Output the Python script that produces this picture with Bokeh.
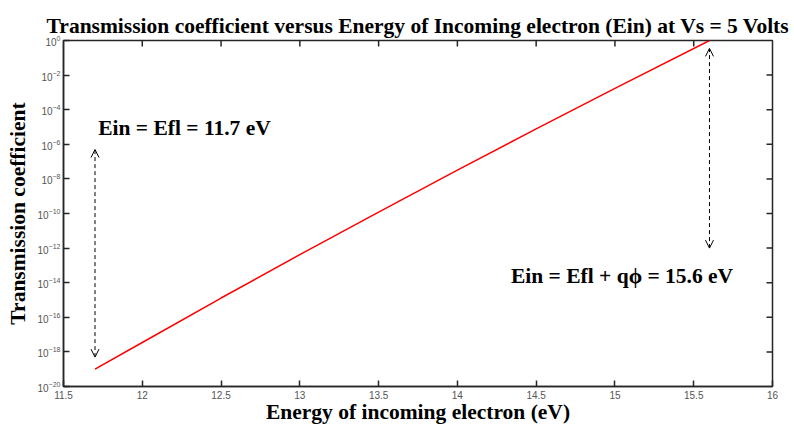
import math
from bokeh.plotting import figure
from bokeh.models import (FixedTicker, Arrow, OpenHead, Label, Range1d, ColumnDataSource)
from bokeh.embed import file_html
from bokeh.resources import INLINE

# ---- data ----
energy = [11.7, 12.0, 12.5, 13.0, 13.5, 14.0, 14.5, 15.0, 15.6]
transmission = [1.0e-19, 3.5e-18, 1.3e-15, 4.2e-13, 1.2e-10, 3.2e-8, 7.8e-6, 1.7e-3, 1.0]

x_ticks = [11.5, 12.0, 12.5, 13.0, 13.5, 14.0, 14.5, 15.0, 15.5, 16.0]
x_tick_labels = ["11.5", "12", "12.5", "13", "13.5", "14", "14.5", "15", "15.5", "16"]
y_ticks = [1e-20, 1e-18, 1e-16, 1e-14, 1e-12, 1e-10, 1e-8, 1e-6, 1e-4, 1e-2, 1e0]

arrow_x = [11.7, 15.6]
arrow_y_low = [5e-19, 1e-12]
arrow_y_high = [5e-7, 0.35]

title_text = "Transmission coefficient versus Energy of Incoming electron (Ein) at Vs = 5 Volts"
x_label = "Energy of incoming electron (eV)"
y_label = "Transmission coefficient"
note_left = "Ein = Efl = 11.7 eV"
note_right = "Ein = Efl + q\u03d5 = 15.6 eV"

SERIF = "Liberation Serif"
AXC = "#262626"
BIG = "21.5px"

x_lo, x_hi = x_ticks[0], x_ticks[-1]
y_lo, y_hi = y_ticks[0], y_ticks[-1]

p = figure(width=794, height=426, x_range=Range1d(x_lo, x_hi), y_range=Range1d(y_lo, y_hi),
           y_axis_type="log", output_backend="svg", toolbar_location=None,
           min_border_left=63, min_border_right=22, min_border_top=40, min_border_bottom=40)
p.background_fill_color = "white"
p.border_fill_color = "white"
p.grid.visible = False
p.outline_line_color = AXC
p.outline_line_width = 1.5

p.title.text = title_text
p.title.align = "center"
p.title.text_font = SERIF
p.title.text_font_size = BIG
p.title.text_font_style = "bold"
p.title.text_color = "black"
p.title.standoff = 5

for ax in (p.xaxis[0], p.yaxis[0]):
    ax.major_tick_in = 6
    ax.major_tick_out = 0
    ax.minor_tick_in = 0
    ax.minor_tick_out = 0
    ax.axis_line_color = AXC
    ax.axis_line_width = 1.5
    ax.major_tick_line_color = AXC
    ax.major_tick_line_width = 1.5
    ax.major_label_text_font = "Liberation Sans"
    ax.major_label_text_font_size = "10px"
    ax.major_label_text_color = "#555555"
    ax.major_label_standoff = 3
    ax.axis_label_text_font = SERIF
    ax.axis_label_text_font_size = BIG
    ax.axis_label_text_font_style = "bold"
    ax.axis_label_text_color = "black"

xa = p.xaxis[0]
xa.ticker = FixedTicker(ticks=x_ticks)
xa.major_label_overrides = {t: s for t, s in zip(x_ticks, x_tick_labels)}
xa.axis_label = x_label
xa.major_label_standoff = 4
xa.axis_label_standoff = -2

ya = p.yaxis[0]
ya.ticker = FixedTicker(ticks=y_ticks)
ya.axis_label = y_label
ya.axis_label_standoff = 5

# inward tick marks on the top and right edges of the box (clipped to the frame)
top_src = ColumnDataSource(dict(x=x_ticks[1:-1], y=[y_hi] * (len(x_ticks) - 2)))
p.scatter("x", "y", source=top_src, marker="dash", size=12, angle=math.pi / 2,
          line_color=AXC, line_width=1.5)
right_src = ColumnDataSource(dict(x=[x_hi] * (len(y_ticks) - 2), y=y_ticks[1:-1]))
p.scatter("x", "y", source=right_src, marker="dash", size=12, angle=0,
          line_color=AXC, line_width=1.5)

src = ColumnDataSource(dict(x=energy, y=transmission))
p.line("x", "y", source=src, line_color="#ff0000", line_width=1.5)

arrows = ColumnDataSource(dict(x=arrow_x, y0=arrow_y_low, y1=arrow_y_high))
p.add_layout(Arrow(x_start="x", y_start="y0", x_end="x", y_end="y1", source=arrows,
                   line_color="black", line_width=1, line_dash="4 3",
                   start=OpenHead(size=8, line_color="black", line_width=1),
                   end=OpenHead(size=8, line_color="black", line_width=1)))

p.add_layout(Label(x=11.72, y=10 ** -5.03, text=note_left, text_font=SERIF,
                   text_font_size=BIG, text_font_style="bold", text_color="black",
                   text_baseline="alphabetic", text_align="left"))
p.add_layout(Label(x=14.34, y=10 ** -13.6, text=note_right, text_font=SERIF,
                   text_font_size=BIG, text_font_style="bold", text_color="black",
                   text_baseline="alphabetic", text_align="left"))

open("out.html", "w").write(file_html(p, INLINE))
